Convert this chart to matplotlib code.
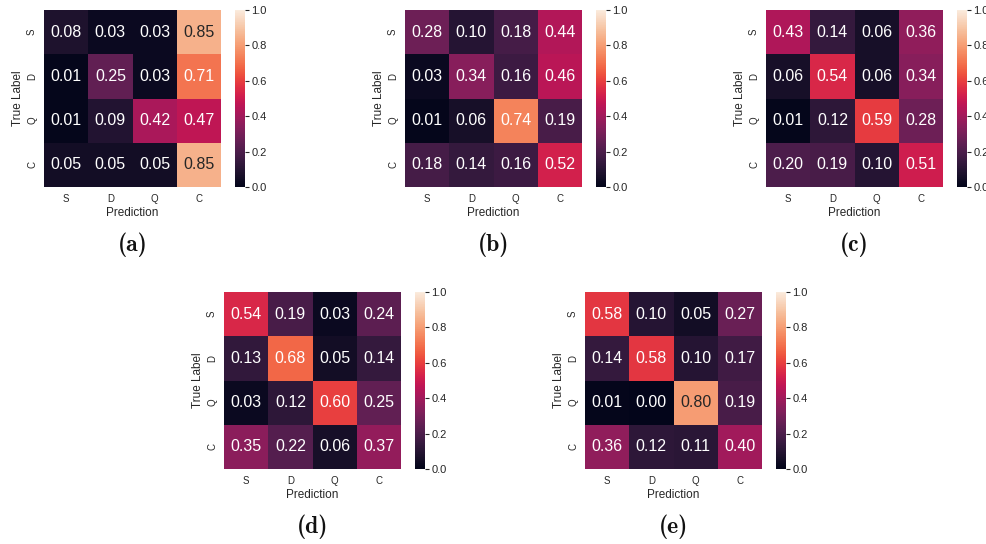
import numpy as np
import matplotlib
matplotlib.use("Agg")
import matplotlib.pyplot as plt
import seaborn as sns

# class names and confusion matrices (rows = true label, cols = prediction)
classes = ["S", "D", "Q", "C"]

cm_a = [[0.08, 0.03, 0.03, 0.85],
        [0.01, 0.25, 0.03, 0.71],
        [0.01, 0.09, 0.42, 0.47],
        [0.05, 0.05, 0.05, 0.85]]
cm_b = [[0.28, 0.10, 0.18, 0.44],
        [0.03, 0.34, 0.16, 0.46],
        [0.01, 0.06, 0.74, 0.19],
        [0.18, 0.14, 0.16, 0.52]]
cm_c = [[0.43, 0.14, 0.06, 0.36],
        [0.06, 0.54, 0.06, 0.34],
        [0.01, 0.12, 0.59, 0.28],
        [0.20, 0.19, 0.10, 0.51]]
cm_d = [[0.54, 0.19, 0.03, 0.24],
        [0.13, 0.68, 0.05, 0.14],
        [0.03, 0.12, 0.60, 0.25],
        [0.35, 0.22, 0.06, 0.37]]
cm_e = [[0.58, 0.10, 0.05, 0.27],
        [0.14, 0.58, 0.10, 0.17],
        [0.01, 0.00, 0.80, 0.19],
        [0.36, 0.12, 0.11, 0.40]]

captions = ["(a)", "(b)", "(c)", "(d)", "(e)"]
matrices = [cm_a, cm_b, cm_c, cm_d, cm_e]

plt.rcParams["font.family"] = ["Liberation Sans", "DejaVu Sans"]

W, H = 986, 544
fig = plt.figure(figsize=(W / 100, H / 100), dpi=100)

# pixel positions of each heatmap: (left, top)
spots = [(44, 10), (405, 10), (766, 10), (224, 292), (585, 292)]
size = 177

for (x0, y0), mat, cap in zip(spots, matrices, captions):
    ax = fig.add_axes([x0 / W, (H - y0 - size) / H, size / W, size / H])
    cax = fig.add_axes([(x0 + 191) / W, (H - y0 - size) / H, 10 / W, size / H])
    sns.heatmap(np.array(mat), ax=ax, cbar_ax=cax, vmin=0, vmax=1,
                annot=True, fmt=".2f", annot_kws={"fontsize": 11.5},
                xticklabels=classes, yticklabels=classes)
    ax.tick_params(length=0, labelsize=7, colors="#262626", pad=5)
    ax.set_yticklabels(classes, rotation=90, va="center")
    ax.set_xlabel("Prediction", fontsize=8.5, color="#262626", labelpad=2)
    ax.set_ylabel("True Label", fontsize=8.5, color="#262626", labelpad=2)
    cax.set_yticks([0, 0.2, 0.4, 0.6, 0.8, 1.0])
    cax.tick_params(length=3, width=0.8, labelsize=8, colors="#262626", pad=1.5)
    cax.yaxis.set_major_formatter(matplotlib.ticker.FormatStrFormatter("%.1f"))
    # bold Computer Modern caption under each panel
    fig.text((x0 + size / 2) / W, (H - y0 - 235) / H, cap,
             family=["cmb10", "DejaVu Serif"],
             fontsize=17, ha="center", va="center", color="#111111")

fig.savefig("out.png", dpi=100)
